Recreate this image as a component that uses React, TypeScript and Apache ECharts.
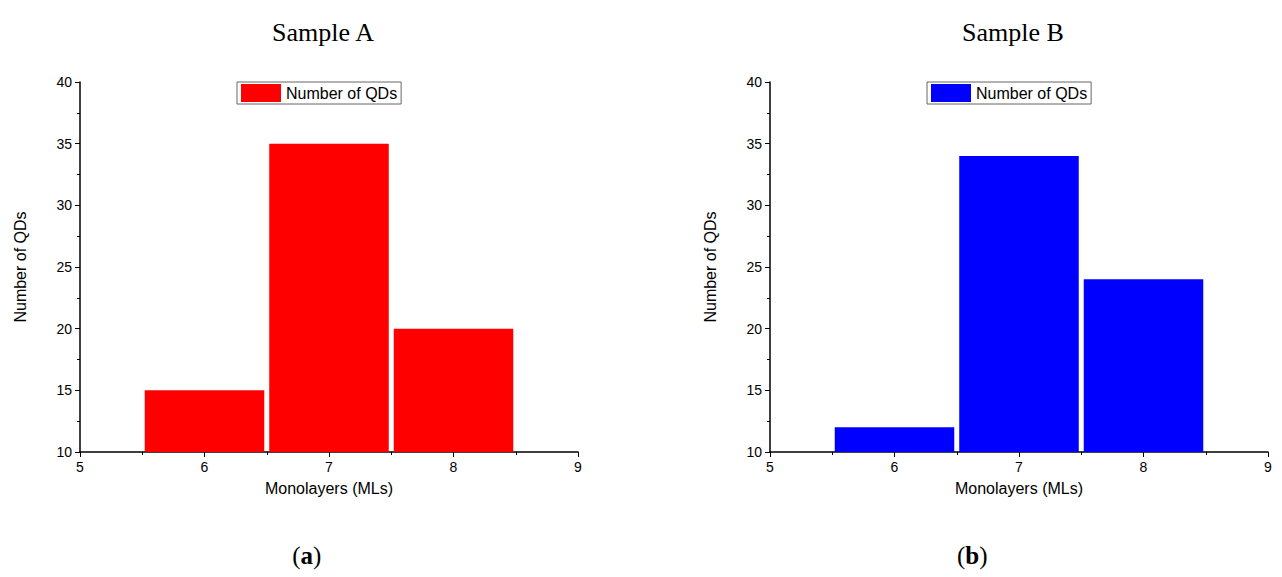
import { useEffect, useRef } from 'react'
import * as echarts from 'echarts'

const monolayers = [6, 7, 8]
const sampleA = [15, 35, 20]
const sampleB = [12, 34, 24]

const font = 'Arial, "Liberation Sans", sans-serif'

function makeOption(title: string, color: string, values: number[], left: number) {
  return {
    animation: false,
    title: {
      text: title,
      left: left + 238,
      top: 6,
      textAlign: 'center',
      textStyle: { fontFamily: '"Liberation Serif", serif', fontWeight: 'normal', fontSize: 26, color: '#000' },
    },
    legend: {
      data: ['Number of QDs'],
      left: left + 157,
      top: 74,
      borderColor: '#666',
      borderWidth: 1,
      padding: [2, 4],
      itemWidth: 40,
      itemHeight: 18,
      itemGap: 4,
      textStyle: { fontFamily: font, fontSize: 16, color: '#000' },
      icon: 'rect',
    },
    grid: { left: left, width: 498, top: 74, height: 370 },
    xAxis: {
      type: 'value',
      min: 5,
      max: 9,
      interval: 1,
      name: 'Monolayers (MLs)',
      nameLocation: 'middle',
      nameGap: 28,
      nameTextStyle: { fontFamily: font, fontSize: 16, color: '#000' },
      axisLine: { lineStyle: { color: '#000', width: 1.5 } },
      axisTick: { inside: false, length: 5, lineStyle: { color: '#000' } },
      minorTick: { show: true, splitNumber: 2, length: 3, lineStyle: { color: '#000' } },
      axisLabel: { fontFamily: font, fontSize: 14, color: '#000' },
      splitLine: { show: false },
    },
    yAxis: {
      type: 'value',
      min: 10,
      max: 40,
      interval: 5,
      name: 'Number of QDs',
      nameLocation: 'middle',
      nameGap: 52,
      nameTextStyle: { fontFamily: font, fontSize: 16, color: '#000' },
      axisLine: { show: true, lineStyle: { color: '#000', width: 1.5 } },
      axisTick: { show: true, inside: false, length: 5, lineStyle: { color: '#000' } },
      minorTick: { show: true, splitNumber: 2, length: 3, lineStyle: { color: '#000' } },
      axisLabel: { fontFamily: font, fontSize: 14, color: '#000' },
      splitLine: { show: false },
    },
    series: [
      {
        name: 'Number of QDs',
        type: 'custom',
        itemStyle: { color },
        data: monolayers.map((m, i) => [m, values[i]]),
        renderItem: (params: any, api: any) => {
          const x = api.value(0)
          const y = api.value(1)
          const p0 = api.coord([x - 0.48, y])
          const p1 = api.coord([x + 0.48, 10])
          return {
            type: 'rect',
            shape: { x: p0[0], y: p0[1], width: p1[0] - p0[0], height: p1[1] - p0[1] },
            style: { fill: color },
          }
        },
      },
    ],
  }
}

function Chart({ title, color, values, left }: { title: string; color: string; values: number[]; left: number }) {
  const ref = useRef<HTMLDivElement>(null)
  useEffect(() => {
    if (!ref.current) return
    const chart = echarts.init(ref.current, null, { renderer: 'svg' })
    chart.setOption(makeOption(title, color, values, left) as any)
    return () => chart.dispose()
  }, [])
  return <div ref={ref} style={{ width: 641, height: 520 }} />
}

export default function App() {
  const cap = { fontFamily: '"Liberation Serif", serif', fontSize: 25, textAlign: 'center' as const, width: 641 }
  return (
    <div style={{ width: 1282, height: 577, background: '#fff', margin: -8, paddingTop: 8, position: 'relative' }}>
      <div style={{ display: 'flex' }}>
        <Chart title="Sample A" color="#ff0000" values={sampleA} left={80} />
        <Chart title="Sample B" color="#0000ff" values={sampleB} left={129} />
      </div>
      <div style={{ display: 'flex', marginTop: 14 }}>
        <div style={{ ...cap, marginLeft: -3 }}>(<b>a</b>)</div>
        <div style={{ ...cap, marginLeft: 46 }}>(<b>b</b>)</div>
      </div>
    </div>
  )
}
